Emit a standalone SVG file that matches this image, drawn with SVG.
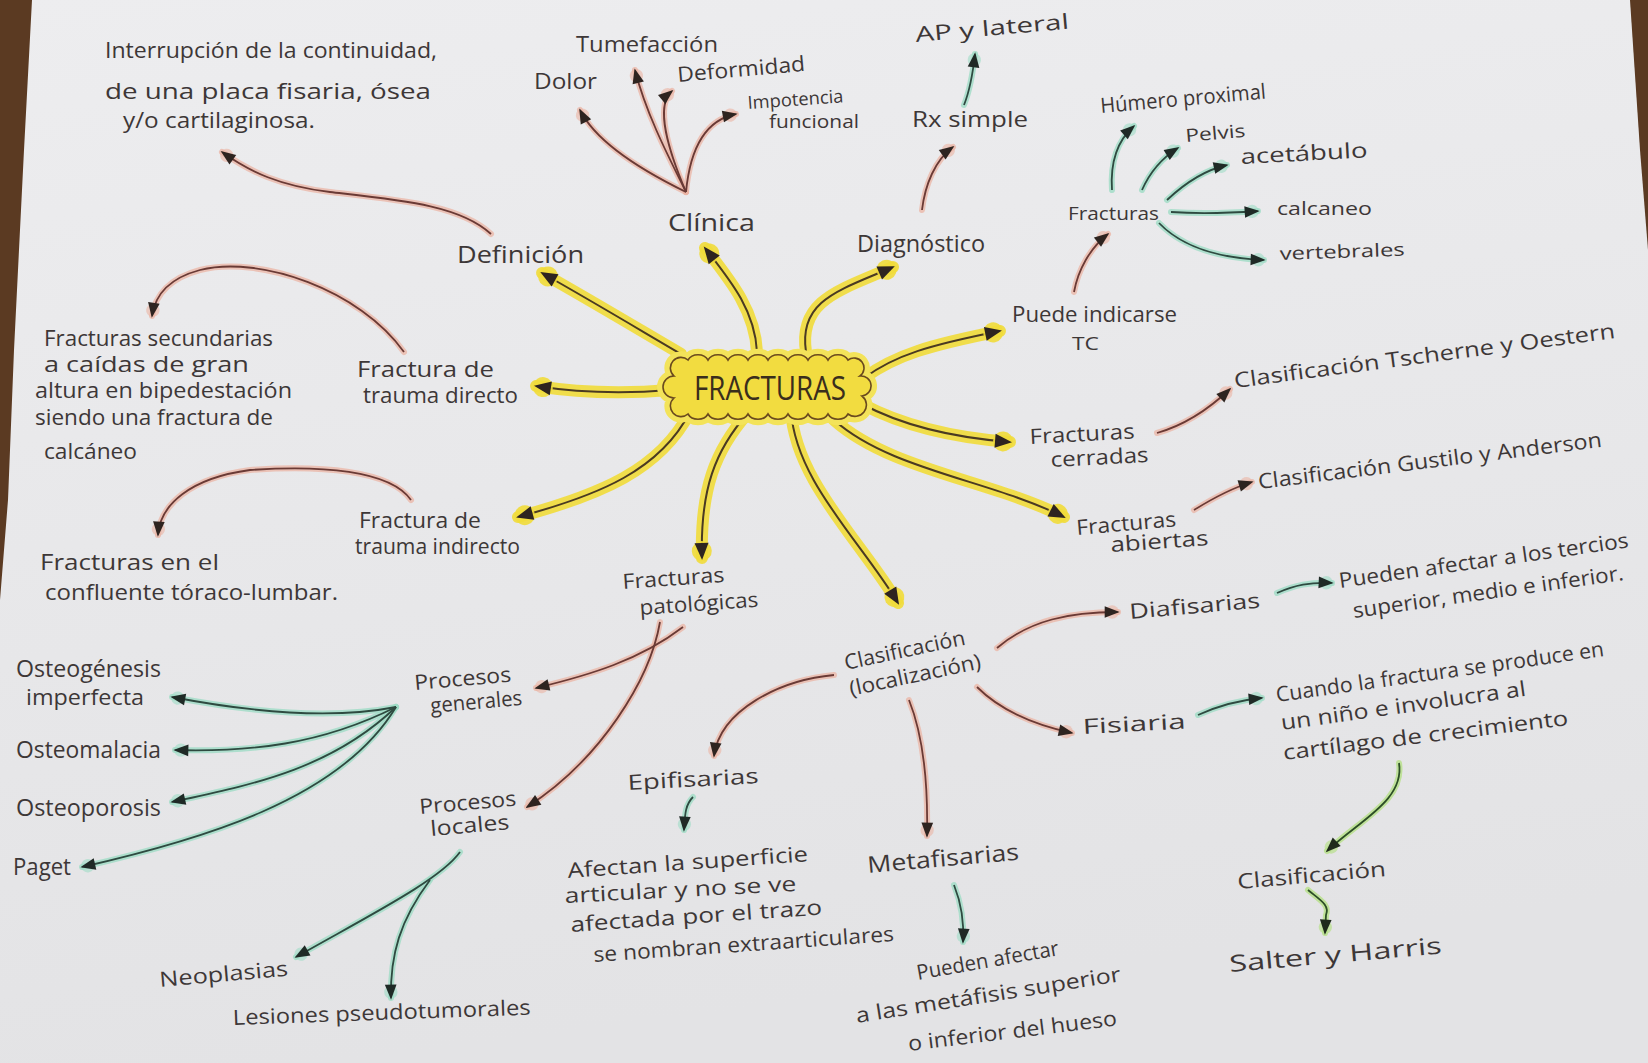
<svg xmlns="http://www.w3.org/2000/svg" width="1648" height="1063" viewBox="0 0 1648 1063">
<style>
.t{font-family:"Open Sans","Liberation Sans",sans-serif;font-size:21px;fill:#3d3737}
.s{font-size:18px}
.m{font-size:23px}
.big{font-family:"Open Sans","Liberation Sans",sans-serif;font-size:33px;fill:#3a2e1c}
.hy{fill:none;stroke:#f1dc3a;stroke-width:12;stroke-linecap:round;opacity:.9}
.iy{fill:none;stroke:#4a3a22;stroke-width:2;marker-end:url(#my)}
.hp{fill:none;stroke:#ebb4a4;stroke-width:6;stroke-linecap:round;opacity:.75}
.ip{fill:none;stroke:#6a3a35;stroke-width:1.8;marker-end:url(#mp)}
.hg{fill:none;stroke:#9fdcc6;stroke-width:6;stroke-linecap:round;opacity:.8}
.ig{fill:none;stroke:#2e4a40;stroke-width:1.8;marker-end:url(#mg)}
.hl{fill:none;stroke:#b8e08c;stroke-width:6;stroke-linecap:round;opacity:.85}
.il{fill:none;stroke:#2c4e26;stroke-width:1.8;marker-end:url(#ml)}
</style>
<defs>
<linearGradient id="paper" x1="0" y1="0" x2="0.2" y2="1">
<stop offset="0" stop-color="#ededef"/><stop offset="1" stop-color="#e3e3e5"/>
</linearGradient>
<marker id="my" viewBox="0 0 24 24" refX="19" refY="12" markerWidth="24" markerHeight="24" markerUnits="userSpaceOnUse" orient="auto">
<circle cx="12" cy="12" r="10" fill="#f1dc3a" opacity=".9"/><path d="M4,5 L21,12 L4,19 z" fill="#2e2420"/></marker>
<marker id="mp" viewBox="0 0 24 24" refX="19" refY="12" markerWidth="20" markerHeight="20" markerUnits="userSpaceOnUse" orient="auto">
<circle cx="12" cy="12" r="8" fill="#ebb4a4" opacity=".6"/><path d="M3,5 L21,12 L3,19 z" fill="#2e2420"/></marker>
<marker id="mg" viewBox="0 0 24 24" refX="19" refY="12" markerWidth="20" markerHeight="20" markerUnits="userSpaceOnUse" orient="auto">
<circle cx="12" cy="12" r="8" fill="#9fdcc6" opacity=".6"/><path d="M3,5 L21,12 L3,19 z" fill="#1f2a26"/></marker>
<marker id="ml" viewBox="0 0 24 24" refX="19" refY="12" markerWidth="20" markerHeight="20" markerUnits="userSpaceOnUse" orient="auto">
<circle cx="12" cy="12" r="8" fill="#b8e08c" opacity=".7"/><path d="M3,5 L21,12 L3,19 z" fill="#1f2a1c"/></marker>
<path id="y1" d="M681,354 C640,330 590,300 542,273"/>
<path id="y2" d="M757,352 C755,310 730,280 705,248"/>
<path id="y3" d="M806,352 C798,300 840,290 893,267"/>
<path id="y4" d="M864,378 C895,355 930,345 1000,331"/>
<path id="y5" d="M670,390 Q600,396 536,386"/>
<path id="y6" d="M862,404 Q920,435 1010,442"/>
<path id="y7" d="M690,412 C660,470 600,495 518,517"/>
<path id="y8" d="M748,413 C715,450 700,490 702,558"/>
<path id="y9" d="M791,410 C795,480 860,540 898,603"/>
<path id="y10" d="M834,420 C890,470 990,480 1064,517"/>
<path id="p1" d="M491,234 C460,205 400,200 330,192 C280,186 250,172 222,152"/>
<path id="p2" d="M404,352 C360,290 260,255 200,270 C170,278 155,295 152,316"/>
<path id="p3" d="M411,500 C390,470 320,465 250,470 C190,478 160,505 158,535"/>
<path id="p4" d="M686,192 Q600,150 580,110"/>
<path id="p5" d="M686,192 C665,150 645,110 635,70"/>
<path id="p6" d="M686,192 C668,150 655,105 672,91"/>
<path id="p7" d="M686,192 C690,150 705,120 736,114"/>
<path id="p8" d="M922,210 C925,185 935,160 953,147"/>
<path id="p9" d="M1074,292 C1078,270 1090,248 1108,234"/>
<path id="p10" d="M1157,433 C1185,425 1210,408 1230,389"/>
<path id="p11" d="M1194,510 C1215,497 1232,488 1252,482"/>
<path id="p12" d="M683,627 C640,660 590,675 536,688"/>
<path id="p13" d="M660,622 C650,680 600,760 527,807"/>
<path id="p14" d="M834,675 C780,680 720,710 714,756"/>
<path id="p15" d="M909,700 C925,740 928,790 927,836"/>
<path id="p16" d="M997,648 C1030,620 1070,612 1118,612"/>
<path id="p17" d="M977,687 C1000,710 1035,725 1072,733"/>
<path id="g1" d="M964,105 C970,90 973,72 975,54"/>
<path id="g2" d="M1112,190 C1110,160 1118,140 1134,126"/>
<path id="g3" d="M1142,190 C1150,172 1162,158 1178,148"/>
<path id="g4" d="M1167,200 C1185,183 1205,170 1227,165"/>
<path id="g5" d="M1171,212 C1200,214 1230,213 1258,211"/>
<path id="g6" d="M1159,223 C1180,245 1215,258 1264,260"/>
<path id="g7" d="M1277,593 C1295,585 1310,582 1332,583"/>
<path id="g8" d="M1198,715 C1220,705 1240,700 1262,698"/>
<path id="g9" d="M1399,763 C1405,800 1360,820 1327,851"/>
<path id="g10" d="M1308,890 C1320,900 1330,905 1326,915 L1325,933"/>
<path id="g11" d="M693,797 C685,805 685,815 684,830"/>
<path id="g12" d="M954,885 C962,905 964,925 963,942"/>
<path id="g13" d="M396,707 C330,720 250,712 172,697"/>
<path id="g14" d="M396,707 C320,745 250,752 175,750"/>
<path id="g15" d="M396,707 C330,770 250,785 172,802"/>
<path id="g16" d="M396,707 C340,800 200,840 82,867"/>
<path id="g17" d="M460,852 C440,880 370,915 296,957"/>
<path id="g18" d="M430,880 C400,920 390,955 391,998"/>
</defs>

<rect width="1648" height="1063" fill="url(#paper)"/>
<polygon points="0,0 32,0 24,150 14,350 8,500 0,600" fill="#5b3a22"/>
<polygon points="1630,0 1648,0 1648,250 1640,150" fill="#5b3a22"/>

<g id="connectors">
<use href="#y1" class="hy"/><use href="#y2" class="hy"/><use href="#y3" class="hy"/><use href="#y4" class="hy"/><use href="#y5" class="hy"/>
<use href="#y6" class="hy"/><use href="#y7" class="hy"/><use href="#y8" class="hy"/><use href="#y9" class="hy"/><use href="#y10" class="hy"/>
<use href="#y1" class="iy"/><use href="#y2" class="iy"/><use href="#y3" class="iy"/><use href="#y4" class="iy"/><use href="#y5" class="iy"/>
<use href="#y6" class="iy"/><use href="#y7" class="iy"/><use href="#y8" class="iy"/><use href="#y9" class="iy"/><use href="#y10" class="iy"/>
<use href="#p1" class="hp"/><use href="#p2" class="hp"/><use href="#p3" class="hp"/><use href="#p4" class="hp"/><use href="#p5" class="hp"/><use href="#p6" class="hp"/>
<use href="#p7" class="hp"/><use href="#p8" class="hp"/><use href="#p9" class="hp"/><use href="#p10" class="hp"/><use href="#p11" class="hp"/><use href="#p12" class="hp"/>
<use href="#p13" class="hp"/><use href="#p14" class="hp"/><use href="#p15" class="hp"/><use href="#p16" class="hp"/><use href="#p17" class="hp"/>
<use href="#p1" class="ip"/><use href="#p2" class="ip"/><use href="#p3" class="ip"/><use href="#p4" class="ip"/><use href="#p5" class="ip"/><use href="#p6" class="ip"/>
<use href="#p7" class="ip"/><use href="#p8" class="ip"/><use href="#p9" class="ip"/><use href="#p10" class="ip"/><use href="#p11" class="ip"/><use href="#p12" class="ip"/>
<use href="#p13" class="ip"/><use href="#p14" class="ip"/><use href="#p15" class="ip"/><use href="#p16" class="ip"/><use href="#p17" class="ip"/>
<use href="#g1" class="hg"/><use href="#g2" class="hg"/><use href="#g3" class="hg"/><use href="#g4" class="hg"/><use href="#g5" class="hg"/><use href="#g6" class="hg"/>
<use href="#g7" class="hg"/><use href="#g8" class="hg"/><use href="#g11" class="hg"/><use href="#g12" class="hg"/><use href="#g13" class="hg"/><use href="#g14" class="hg"/>
<use href="#g15" class="hg"/><use href="#g16" class="hg"/><use href="#g17" class="hg"/><use href="#g18" class="hg"/>
<use href="#g9" class="hl"/><use href="#g10" class="hl"/>
<use href="#g1" class="ig"/><use href="#g2" class="ig"/><use href="#g3" class="ig"/><use href="#g4" class="ig"/><use href="#g5" class="ig"/><use href="#g6" class="ig"/>
<use href="#g7" class="ig"/><use href="#g8" class="ig"/><use href="#g11" class="ig"/><use href="#g12" class="ig"/><use href="#g13" class="ig"/><use href="#g14" class="ig"/>
<use href="#g15" class="ig"/><use href="#g16" class="ig"/><use href="#g17" class="ig"/><use href="#g18" class="ig"/>
<use href="#g9" class="il"/><use href="#g10" class="il"/>
</g>

<g id="n-fracturas">
<path d="M688,360 a11,9 0 0 1 20,0 a11,9 0 0 1 20,0 a11,9 0 0 1 20,0 a11,9 0 0 1 20,0 a11,9 0 0 1 20,0 a11,9 0 0 1 20,0 a11,9 0 0 1 20,0 a11,9 0 0 1 20,0 a10,10 0 0 1 12,16 a10,10 0 0 1 2,20 a10,10 0 0 1 -14,18 a11,9 0 0 1 -20,0 a11,9 0 0 1 -20,0 a11,9 0 0 1 -20,0 a11,9 0 0 1 -20,0 a11,9 0 0 1 -20,0 a11,9 0 0 1 -20,0 a11,9 0 0 1 -20,0 a11,9 0 0 1 -20,0 a10,10 0 0 1 -14,-16 a10,10 0 0 1 0,-22 a10,10 0 0 1 14,-16 z" fill="#f0d838" stroke="#f3e35a" stroke-width="12" stroke-linejoin="round"/>
<path d="M688,360 a11,9 0 0 1 20,0 a11,9 0 0 1 20,0 a11,9 0 0 1 20,0 a11,9 0 0 1 20,0 a11,9 0 0 1 20,0 a11,9 0 0 1 20,0 a11,9 0 0 1 20,0 a11,9 0 0 1 20,0 a10,10 0 0 1 12,16 a10,10 0 0 1 2,20 a10,10 0 0 1 -14,18 a11,9 0 0 1 -20,0 a11,9 0 0 1 -20,0 a11,9 0 0 1 -20,0 a11,9 0 0 1 -20,0 a11,9 0 0 1 -20,0 a11,9 0 0 1 -20,0 a11,9 0 0 1 -20,0 a11,9 0 0 1 -20,0 a10,10 0 0 1 -14,-16 a10,10 0 0 1 0,-22 a10,10 0 0 1 14,-16 z" fill="#f2dc40" stroke="#6a4a1e" stroke-width="1.6"/>
<text class="big" x="694" y="400" textLength="152" lengthAdjust="spacingAndGlyphs">FRACTURAS</text>
</g>

<g id="n-interrupcion">
<text class="t" x="105" y="58" textLength="332" lengthAdjust="spacingAndGlyphs">Interrupción de la continuidad,</text>
<text class="t" x="105" y="99" textLength="326" lengthAdjust="spacingAndGlyphs">de una placa fisaria, ósea</text>
<text class="t" x="123" y="128" textLength="192" lengthAdjust="spacingAndGlyphs">y/o cartilaginosa.</text>
</g>
<g id="n-definicion"><text class="t m" x="457" y="263" textLength="127" lengthAdjust="spacingAndGlyphs">Definición</text></g>
<g id="n-clinica"><text class="t m" x="668" y="231" textLength="87" lengthAdjust="spacingAndGlyphs">Clínica</text></g>
<g id="n-dolor"><text class="t" x="534" y="89" textLength="63" lengthAdjust="spacingAndGlyphs">Dolor</text></g>
<g id="n-tumefaccion"><text class="t" x="576" y="52" textLength="142" lengthAdjust="spacingAndGlyphs">Tumefacción</text></g>
<g id="n-deformidad"><text class="t" x="678" y="82" textLength="128" lengthAdjust="spacingAndGlyphs" transform="rotate(-5 678 82)">Deformidad</text></g>
<g id="n-impotencia">
<text class="t s" x="748" y="109" textLength="96" lengthAdjust="spacingAndGlyphs" transform="rotate(-4 748 109)">Impotencia</text>
<text class="t s" x="769" y="128" textLength="90" lengthAdjust="spacingAndGlyphs">funcional</text>
</g>
<g id="n-diagnostico"><text class="t m" x="857" y="252" textLength="128" lengthAdjust="spacingAndGlyphs">Diagnóstico</text></g>
<g id="n-rx"><text class="t" x="912" y="127" textLength="116" lengthAdjust="spacingAndGlyphs">Rx simple</text></g>
<g id="n-ap"><text class="t" x="916" y="42" textLength="154" lengthAdjust="spacingAndGlyphs" transform="rotate(-5 916 42)">AP y lateral</text></g>
<g id="n-fracturas-sitios"><text class="t s" x="1068" y="220" textLength="91" lengthAdjust="spacingAndGlyphs">Fracturas</text></g>
<g id="n-humero"><text class="t" x="1101" y="113" textLength="166" lengthAdjust="spacingAndGlyphs" transform="rotate(-5 1101 113)">Húmero proximal</text></g>
<g id="n-pelvis"><text class="t s" x="1186" y="142" textLength="60" lengthAdjust="spacingAndGlyphs" transform="rotate(-5 1186 142)">Pelvis</text></g>
<g id="n-acetabulo"><text class="t" x="1241" y="164" textLength="127" lengthAdjust="spacingAndGlyphs" transform="rotate(-3 1241 164)">acetábulo</text></g>
<g id="n-calcaneo"><text class="t s" x="1277" y="215" textLength="95" lengthAdjust="spacingAndGlyphs">calcaneo</text></g>
<g id="n-vertebrales"><text class="t s" x="1280" y="260" textLength="125" lengthAdjust="spacingAndGlyphs" transform="rotate(-2 1280 260)">vertebrales</text></g>
<g id="n-puede-tc">
<text class="t" x="1012" y="322" textLength="165" lengthAdjust="spacingAndGlyphs">Puede indicarse</text>
<text class="t s" x="1072" y="350" textLength="27" lengthAdjust="spacingAndGlyphs">TC</text>
</g>
<g id="n-tscherne"><text class="t" x="1235" y="388" textLength="384" lengthAdjust="spacingAndGlyphs" transform="rotate(-7.5 1235 388)">Clasificación Tscherne y Oestern</text></g>
<g id="n-cerradas">
<text class="t" x="1030" y="444" textLength="105" lengthAdjust="spacingAndGlyphs" transform="rotate(-3 1030 444)">Fracturas</text>
<text class="t" x="1051" y="467" textLength="98" lengthAdjust="spacingAndGlyphs" transform="rotate(-3 1051 467)">cerradas</text>
</g>
<g id="n-gustilo"><text class="t" x="1259" y="489" textLength="346" lengthAdjust="spacingAndGlyphs" transform="rotate(-7 1259 489)">Clasificación Gustilo y Anderson</text></g>
<g id="n-abiertas">
<text class="t" x="1077" y="535" textLength="100" lengthAdjust="spacingAndGlyphs" transform="rotate(-5 1077 535)">Fracturas</text>
<text class="t" x="1111" y="552" textLength="98" lengthAdjust="spacingAndGlyphs" transform="rotate(-4 1111 552)">abiertas</text>
</g>
<g id="n-diafisarias"><text class="t" x="1130" y="619" textLength="131" lengthAdjust="spacingAndGlyphs" transform="rotate(-5 1130 619)">Diafisarias</text></g>
<g id="n-tercios">
<text class="t" x="1340" y="588" textLength="292" lengthAdjust="spacingAndGlyphs" transform="rotate(-8 1340 588)">Pueden afectar a los tercios</text>
<text class="t" x="1354" y="618" textLength="273" lengthAdjust="spacingAndGlyphs" transform="rotate(-8 1354 618)">superior, medio e inferior.</text>
</g>
<g id="n-fisiaria"><text class="t" x="1083" y="734" textLength="103" lengthAdjust="spacingAndGlyphs" transform="rotate(-3 1083 734)">Fisiaria</text></g>
<g id="n-cuando">
<text class="t" x="1277" y="702" textLength="331" lengthAdjust="spacingAndGlyphs" transform="rotate(-8 1277 702)">Cuando la fractura se produce en</text>
<text class="t" x="1282" y="730" textLength="247" lengthAdjust="spacingAndGlyphs" transform="rotate(-8 1282 730)">un niño e involucra al</text>
<text class="t" x="1284" y="760" textLength="287" lengthAdjust="spacingAndGlyphs" transform="rotate(-7 1284 760)">cartílago de crecimiento</text>
</g>
<g id="n-clasificacion-sh"><text class="t" x="1238" y="889" textLength="149" lengthAdjust="spacingAndGlyphs" transform="rotate(-5 1238 889)">Clasificación</text></g>
<g id="n-salter"><text class="t m" x="1230" y="972" textLength="213" lengthAdjust="spacingAndGlyphs" transform="rotate(-5 1230 972)">Salter y Harris</text></g>
<g id="n-clasificacion-loc">
<text class="t" x="846" y="670" textLength="123" lengthAdjust="spacingAndGlyphs" transform="rotate(-12 846 670)">Clasificación</text>
<text class="t" x="851" y="696" textLength="134" lengthAdjust="spacingAndGlyphs" transform="rotate(-12 851 696)">(localización)</text>
</g>
<g id="n-epifisarias"><text class="t" x="628" y="790" textLength="131" lengthAdjust="spacingAndGlyphs" transform="rotate(-3 628 790)">Epifisarias</text></g>
<g id="n-afectan">
<text class="t" x="568" y="878" textLength="241" lengthAdjust="spacingAndGlyphs" transform="rotate(-4 568 878)">Afectan la superficie</text>
<text class="t" x="565" y="903" textLength="232" lengthAdjust="spacingAndGlyphs" transform="rotate(-3 565 903)">articular y no se ve</text>
<text class="t" x="571" y="932" textLength="252" lengthAdjust="spacingAndGlyphs" transform="rotate(-4 571 932)">afectada por el trazo</text>
<text class="t" x="594" y="962" textLength="301" lengthAdjust="spacingAndGlyphs" transform="rotate(-4 594 962)">se nombran extraarticulares</text>
</g>
<g id="n-metafisarias"><text class="t m" x="868" y="873" textLength="152" lengthAdjust="spacingAndGlyphs" transform="rotate(-5 868 873)">Metafisarias</text></g>
<g id="n-metafisis">
<text class="t" x="918" y="980" textLength="144" lengthAdjust="spacingAndGlyphs" transform="rotate(-10 918 980)">Pueden afectar</text>
<text class="t" x="857" y="1023" textLength="268" lengthAdjust="spacingAndGlyphs" transform="rotate(-9 857 1023)">a las metáfisis superior</text>
<text class="t" x="909" y="1051" textLength="210" lengthAdjust="spacingAndGlyphs" transform="rotate(-7 909 1051)">o inferior del hueso</text>
</g>
<g id="n-patologicas">
<text class="t" x="623" y="589" textLength="102" lengthAdjust="spacingAndGlyphs" transform="rotate(-4 623 589)">Fracturas</text>
<text class="t" x="640" y="615" textLength="119" lengthAdjust="spacingAndGlyphs" transform="rotate(-4 640 615)">patológicas</text>
</g>
<g id="n-generales">
<text class="t" x="415" y="690" textLength="97" lengthAdjust="spacingAndGlyphs" transform="rotate(-5 415 690)">Procesos</text>
<text class="t" x="431" y="713" textLength="92" lengthAdjust="spacingAndGlyphs" transform="rotate(-5 431 713)">generales</text>
</g>
<g id="n-locales">
<text class="t" x="420" y="814" textLength="97" lengthAdjust="spacingAndGlyphs" transform="rotate(-5 420 814)">Procesos</text>
<text class="t" x="431" y="836" textLength="79" lengthAdjust="spacingAndGlyphs" transform="rotate(-5 431 836)">locales</text>
</g>
<g id="n-osteogenesis">
<text class="t m" x="16" y="677" textLength="145" lengthAdjust="spacingAndGlyphs">Osteogénesis</text>
<text class="t" x="26" y="705" textLength="118" lengthAdjust="spacingAndGlyphs">imperfecta</text>
</g>
<g id="n-osteomalacia"><text class="t m" x="16" y="758" textLength="145" lengthAdjust="spacingAndGlyphs">Osteomalacia</text></g>
<g id="n-osteoporosis"><text class="t m" x="16" y="816" textLength="145" lengthAdjust="spacingAndGlyphs">Osteoporosis</text></g>
<g id="n-paget"><text class="t m" x="13" y="875" textLength="58" lengthAdjust="spacingAndGlyphs">Paget</text></g>
<g id="n-neoplasias"><text class="t" x="160" y="987" textLength="129" lengthAdjust="spacingAndGlyphs" transform="rotate(-5 160 987)">Neoplasias</text></g>
<g id="n-lesiones"><text class="t" x="233" y="1025" textLength="298" lengthAdjust="spacingAndGlyphs" transform="rotate(-2 233 1025)">Lesiones pseudotumorales</text></g>
<g id="n-directo">
<text class="t" x="357" y="377" textLength="137" lengthAdjust="spacingAndGlyphs">Fractura de</text>
<text class="t" x="363" y="403" textLength="155" lengthAdjust="spacingAndGlyphs">trauma directo</text>
</g>
<g id="n-secundarias">
<text class="t" x="44" y="346" textLength="229" lengthAdjust="spacingAndGlyphs">Fracturas secundarias</text>
<text class="t" x="44" y="372" textLength="205" lengthAdjust="spacingAndGlyphs">a caídas de gran</text>
<text class="t" x="35" y="398" textLength="257" lengthAdjust="spacingAndGlyphs">altura en bipedestación</text>
<text class="t" x="35" y="425" textLength="238" lengthAdjust="spacingAndGlyphs">siendo una fractura de</text>
<text class="t" x="44" y="459" textLength="93" lengthAdjust="spacingAndGlyphs">calcáneo</text>
</g>
<g id="n-indirecto">
<text class="t" x="359" y="528" textLength="122" lengthAdjust="spacingAndGlyphs">Fractura de</text>
<text class="t" x="355" y="554" textLength="165" lengthAdjust="spacingAndGlyphs">trauma indirecto</text>
</g>
<g id="n-toracolumbar">
<text class="t" x="40" y="570" textLength="179" lengthAdjust="spacingAndGlyphs">Fracturas en el</text>
<text class="t" x="45" y="600" textLength="293" lengthAdjust="spacingAndGlyphs">confluente tóraco-lumbar.</text>
</g>
</svg>
